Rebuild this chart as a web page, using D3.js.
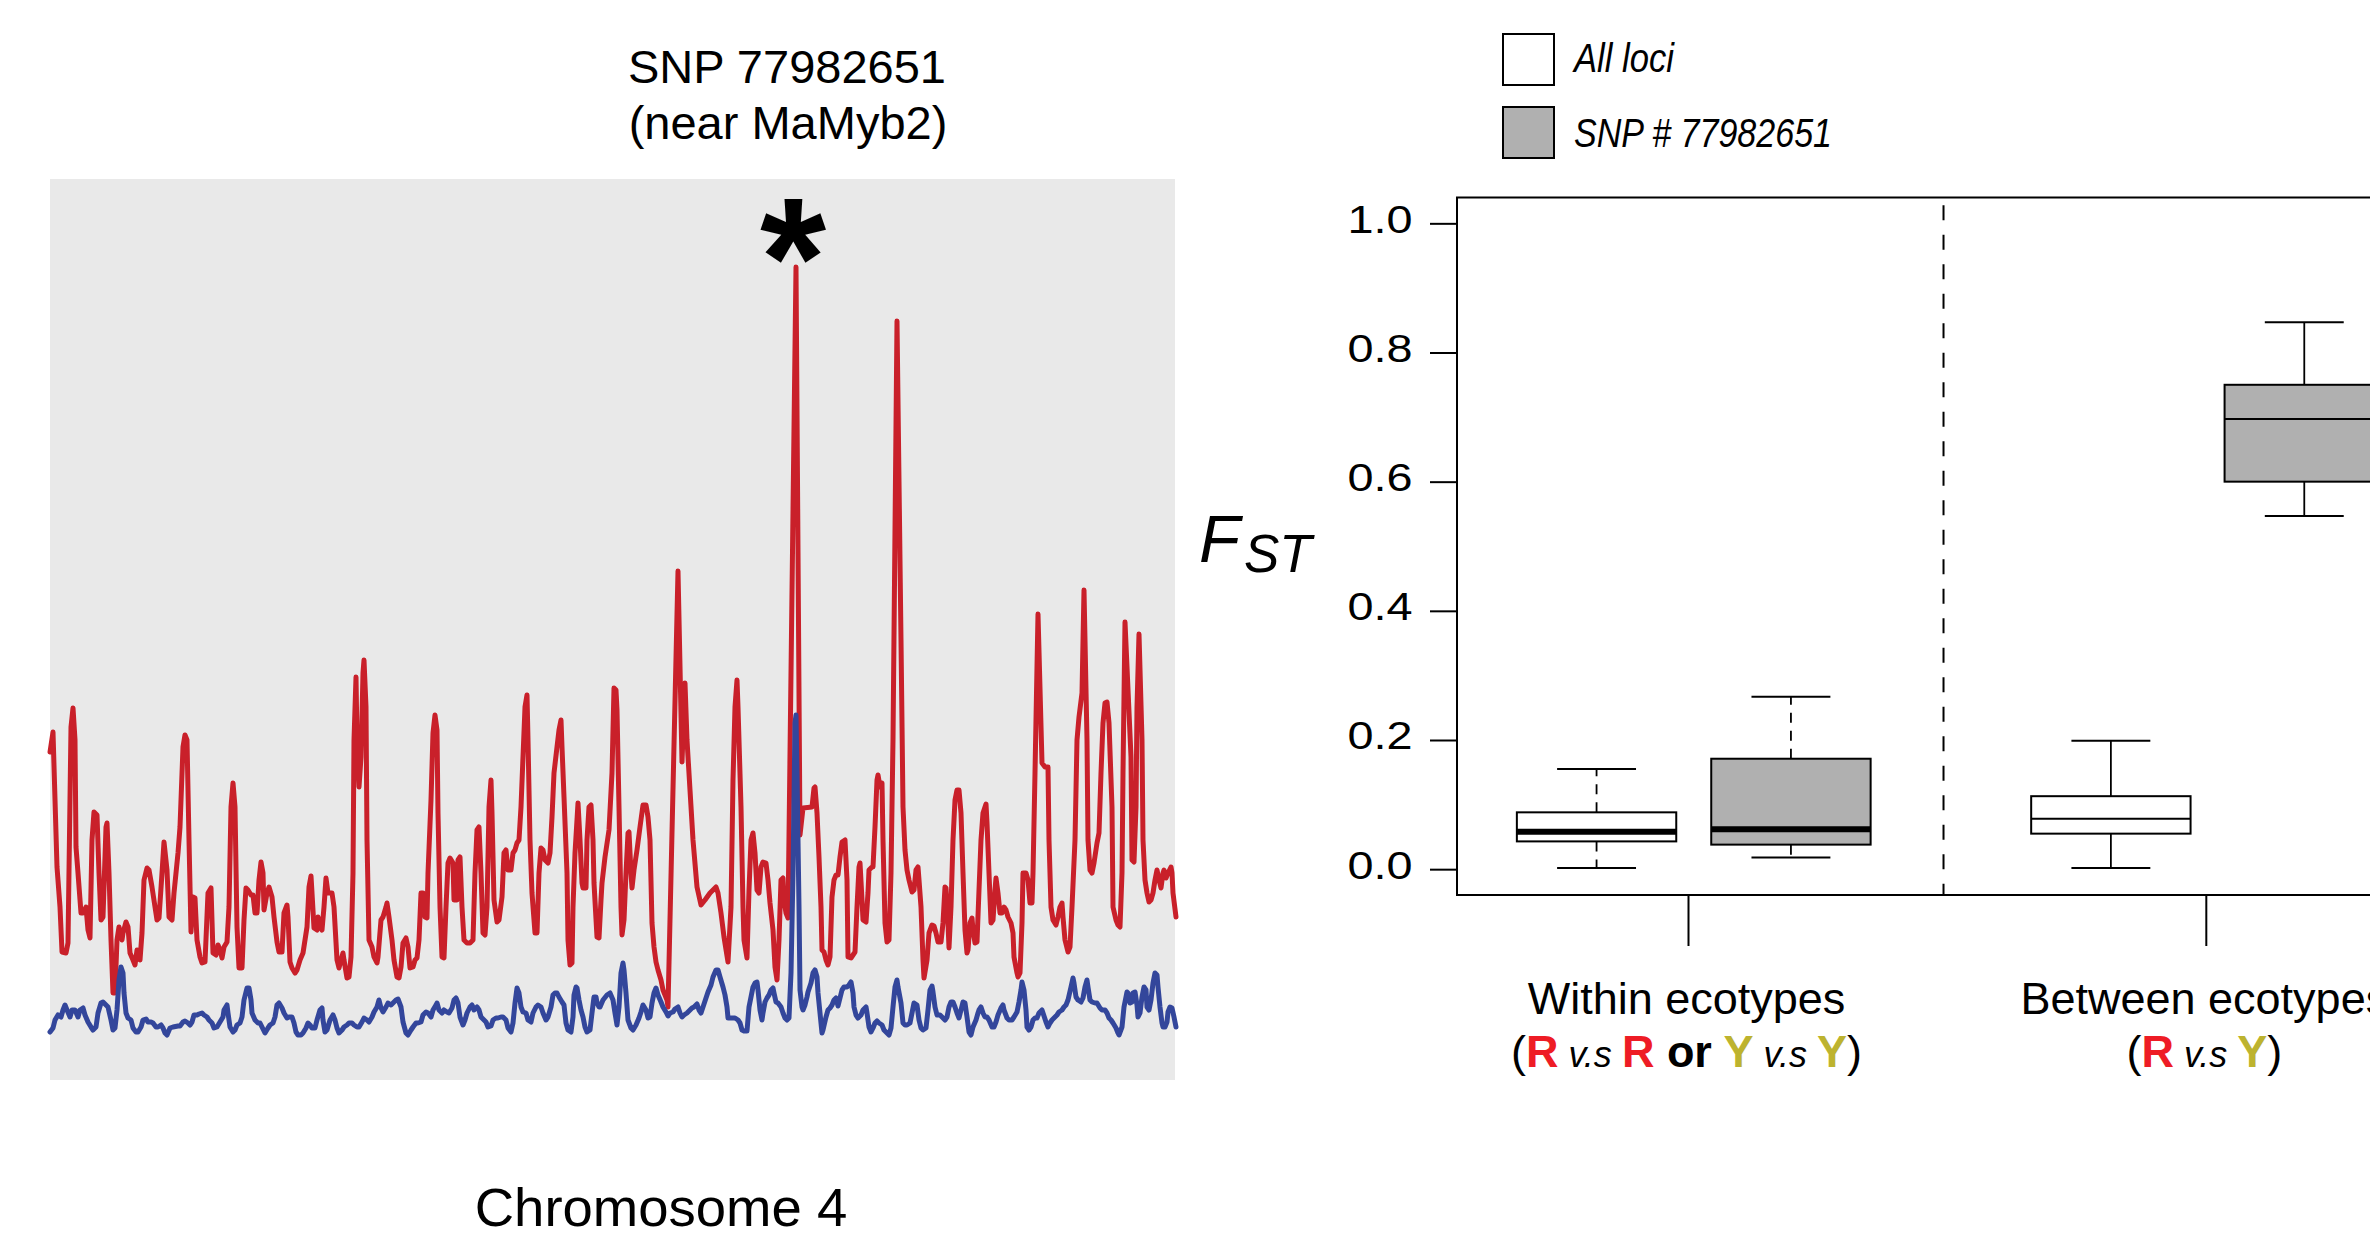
<!DOCTYPE html>
<html>
<head>
<meta charset="utf-8">
<script src="https://cdn.jsdelivr.net/npm/d3@7"></script>
<style>
  body { margin: 0; background: #fff; }
  svg { display: block; font-family: "Liberation Sans", Arial, Helvetica, sans-serif; }
</style>
</head>
<body>
<script>
// sliding-window FST along chromosome 4 (window position, FST)
const betweenFst = [
  [0,.328],[3,.348],[7,.213],[10,.173],[12,.128],[16,.127],[18,.137],[21,.353],[23,.372],[25,.340],[26,.233],[28,.207],
  [31,.167],[33,.167],[36,.173],[38,.150],[40,.142],[42,.240],[44,.268],[47,.265],[49,.207],[51,.160],[53,.163],[56,.253],
  [57,.257],[59,.207],[61,.140],[63,.087],[65,.087],[67,.140],[69,.153],[72,.140],[73,.147],[76,.158],[78,.153],[80,.127],
  [83,.120],[85,.115],[87,.130],[89,.127],[90,.120],[92,.147],[94,.200],[97,.212],[99,.210],[102,.193],[105,.173],[107,.160],
  [109,.162],[112,.207],[114,.238],[117,.210],[119,.163],[122,.160],[124,.187],[128,.227],[130,.253],[133,.333],[135,.345],
  [137,.340],[139,.240],[141,.148],[143,.183],[145,.182],[147,.140],[150,.123],[152,.117],[155,.118],[158,.187],[161,.192],
  [163,.127],[166,.125],[168,.135],[170,.130],[172,.122],[174,.133],[177,.138],[179,.173],[181,.273],[183,.297],[185,.273],
  [187,.153],[189,.112],[192,.112],[194,.160],[196,.192],[198,.190],[201,.185],[203,.185],[205,.167],[207,.167],[209,.200],
  [211,.218],[213,.207],[214,.170],[217,.187],[219,.193],[222,.183],[224,.163],[227,.138],[229,.128],[232,.128],[234,.167],
  [237,.175],[238,.163],[240,.118],[242,.112],[245,.107],[247,.110],[250,.120],[253,.127],[257,.153],[259,.193],[261,.204],
  [262,.187],[264,.152],[267,.150],[268,.163],[270,.153],[272,.150],[274,.173],[276,.202],[278,.187],[282,.187],[284,.173],
  [287,.120],[289,.112],[291,.120],[293,.127],[294,.120],[297,.102],[299,.103],[301,.123],[303,.207],[304,.340],[306,.403],
  [307,.340],[309,.293],[311,.323],[313,.407],[314,.420],[316,.373],[317,.240],[319,.140],[322,.133],[324,.123],[327,.117],
  [328,.123],[331,.160],[333,.163],[336,.173],[337,.177],[339,.163],[342,.140],[344,.120],[347,.103],[349,.102],[351,.113],
  [353,.137],[356,.142],[358,.133],[360,.112],[363,.113],[365,.120],[367,.122],[369,.140],[371,.187],[373,.187],[375,.163],
  [377,.162],[378,.207],[381,.280],[383,.347],[385,.365],[387,.350],[388,.267],[390,.173],[392,.123],[394,.122],[396,.173],
  [398,.217],[400,.222],[403,.217],[404,.180],[407,.180],[408,.220],[410,.223],[412,.173],[414,.140],[417,.137],[420,.137],
  [423,.140],[425,.207],[427,.250],[429,.253],[431,.207],[433,.147],[435,.145],[437,.173],[439,.273],[441,.300],[442,.267],
  [444,.180],[447,.158],[449,.160],[452,.183],[454,.227],[456,.230],[458,.210],[461,.210],[463,.227],[465,.230],[467,.237],
  [469,.240],[471,.273],[473,.323],[475,.373],[477,.385],[478,.340],[480,.240],[482,.187],[485,.147],[487,.147],[489,.207],
  [491,.232],[493,.230],[495,.220],[498,.217],[500,.227],[502,.263],[504,.307],[507,.333],[509,.350],[511,.360],[512,.333],
  [514,.283],[517,.207],[518,.140],[520,.115],[522,.117],[523,.173],[525,.227],[527,.260],[528,.277],[530,.240],[532,.197],
  [533,.192],[536,.192],[537,.240],[539,.273],[541,.275],[543,.240],[544,.197],[547,.143],[549,.142],[551,.180],[552,.197],
  [555,.223],[559,.250],[562,.307],[564,.392],[566,.390],[567,.370],[569,.273],[571,.173],[572,.145],[574,.160],[576,.207],
  [578,.247],[579,.248],[581,.207],[582,.192],[584,.210],[587,.230],[590,.253],[593,.275],[596,.275],[598,.263],[600,.240],
  [602,.157],[604,.133],[606,.118],[608,.110],[611,.100],[613,.090],[617,.080],[618,.073],[628,.509],[632,.318],[635,.397],
  [637,.340],[640,.290],[643,.240],[647,.193],[651,.175],[655,.180],[660,.187],[666,.193],[668,.187],[671,.167],[674,.143],
  [678,.118],[681,.173],[683,.300],[685,.373],[687,.400],[688,.373],[691,.273],[693,.173],[694,.140],[697,.122],[699,.190],
  [701,.240],[703,.247],[705,.227],[707,.190],[709,.187],[711,.213],[713,.218],[716,.217],[718,.200],[720,.177],[723,.150],
  [725,.113],[727,.100],[729,.140],[731,.200],[733,.202],[734,.180],[736,.167],[738,.162],[746,.813],[750,.245],[753,.272],
  [762,.273],[764,.292],[765,.293],[767,.267],[769,.223],[771,.173],[772,.130],[774,.128],[776,.120],[778,.115],[780,.123],
  [782,.183],[784,.200],[786,.205],[788,.205],[790,.223],[792,.238],[795,.240],[797,.200],[798,.123],[801,.122],[803,.125],
  [805,.128],[807,.173],[809,.213],[810,.217],[812,.180],[813,.160],[816,.158],[818,.187],[819,.210],[822,.213],[823,.213],
  [825,.253],[827,.300],[828,.305],[830,.293],[832,.297],[833,.240],[835,.157],[837,.138],[839,.140],[841,.207],[843,.340],
  [847,.759],[851,.440],[853,.273],[855,.230],[857,.210],[859,.200],[862,.188],[864,.190],[866,.210],[868,.213],[869,.200],
  [871,.173],[873,.120],[874,.102],[877,.120],[879,.147],[882,.155],[884,.154],[886,.147],[888,.138],[891,.138],[893,.157],
  [895,.193],[896,.192],[898,.157],[899,.132],[901,.173],[903,.240],[905,.280],[907,.290],[909,.290],[911,.267],[913,.207],
  [915,.150],[917,.127],[918,.130],[920,.157],[922,.162],[923,.150],[925,.137],[927,.138],[929,.190],[931,.240],[933,.267],
  [936,.276],[937,.257],[939,.207],[941,.157],[943,.160],[945,.190],[946,.202],[948,.187],[950,.167],[952,.167],[954,.173],
  [956,.170],[958,.163],[961,.157],[963,.147],[964,.123],[967,.107],[968,.103],[970,.107],[972,.157],[973,.207],[976,.207],
  [978,.200],[980,.177],[982,.177],[983,.207],[985,.307],[988,.466],[992,.317],[995,.313],[998,.313],[999,.240],[1001,.173],
  [1003,.160],[1006,.155],[1008,.163],[1010,.173],[1012,.177],[1013,.163],[1015,.140],[1018,.128],[1020,.133],[1022,.173],
  [1025,.240],[1027,.340],[1029,.363],[1032,.387],[1034,.490],[1037,.340],[1038,.240],[1040,.210],[1042,.207],[1044,.217],
  [1047,.237],[1049,.247],[1051,.307],[1053,.357],[1055,.377],[1057,.378],[1059,.357],[1062,.273],[1063,.173],[1066,.160],
  [1068,.155],[1070,.153],[1072,.207],[1073,.307],[1075,.458],[1081,.323],[1082,.220],[1084,.218],[1086,.273],[1087,.373],
  [1089,.446],[1092,.340],[1093,.240],[1095,.200],[1097,.187],[1099,.178],[1101,.180],[1103,.187],[1105,.200],[1107,.210],
  [1109,.200],[1111,.192],[1113,.207],[1114,.210],[1116,.202],[1118,.207],[1121,.213],[1122,.207],[1123,.187],[1126,.163]
];

const withinFst = [
  [0,.048],[3,.052],[5,.060],[8,.065],[11,.063],[13,.070],[15,.075],[17,.070],[20,.063],[22,.070],[25,.070],[28,.063],
  [30,.070],[33,.072],[35,.065],[38,.058],[41,.053],[43,.050],[46,.053],[48,.067],[51,.077],[53,.078],[56,.075],[58,.073],
  [61,.060],[63,.050],[65,.052],[67,.070],[69,.100],[71,.113],[73,.107],[74,.087],[76,.067],[78,.062],[81,.060],[83,.052],
  [86,.048],[88,.048],[91,.053],[93,.060],[96,.061],[98,.058],[101,.058],[103,.057],[106,.053],[108,.053],[111,.055],
  [113,.052],[115,.047],[117,.045],[120,.052],[123,.053],[128,.054],[130,.054],[133,.058],[135,.059],[138,.057],[140,.055],
  [142,.058],[144,.065],[147,.065],[149,.066],[152,.067],[154,.065],[157,.063],[159,.060],[162,.057],[164,.052],[167,.053],
  [170,.058],[173,.063],[174,.070],[177,.075],[178,.067],[180,.053],[183,.048],[185,.050],[187,.055],[190,.057],[192,.063],
  [194,.080],[197,.092],[199,.092],[201,.080],[202,.067],[205,.060],[208,.057],[210,.057],[212,.053],[215,.047],[218,.052],
  [220,.055],[223,.057],[225,.063],[227,.075],[229,.077],[232,.072],[234,.067],[237,.062],[239,.063],[242,.063],[244,.057],
  [246,.048],[248,.045],[251,.045],[253,.047],[256,.052],[258,.057],[260,.055],[262,.052],[265,.052],[267,.060],[270,.070],
  [272,.072],[273,.060],[275,.048],[277,.050],[280,.060],[283,.065],[285,.060],[287,.052],[289,.047],[292,.050],[294,.053],
  [297,.055],[299,.057],[302,.057],[304,.055],[307,.053],[309,.053],[312,.058],[314,.062],[317,.060],[319,.058],[322,.063],
  [324,.068],[327,.073],[329,.080],[331,.072],[333,.068],[336,.073],[338,.077],[341,.075],[343,.077],[346,.080],[348,.081],
  [351,.073],[353,.058],[356,.047],[358,.045],[361,.050],[363,.053],[366,.057],[368,.057],[371,.058],[373,.065],[376,.068],
  [378,.067],[381,.063],[383,.070],[386,.075],[387,.077],[389,.070],[392,.067],[394,.070],[397,.068],[399,.067],[402,.072],
  [404,.080],[406,.082],[408,.077],[410,.063],[413,.055],[415,.060],[417,.067],[420,.073],[422,.075],[424,.070],[427,.073],
  [429,.070],[431,.063],[433,.061],[436,.058],[438,.053],[441,.054],[443,.060],[446,.062],[448,.062],[451,.063],[453,.063],
  [456,.060],[458,.052],[461,.048],[463,.057],[465,.077],[467,.092],[469,.087],[471,.073],[473,.068],[476,.067],[478,.060],
  [481,.058],[483,.067],[486,.073],[488,.075],[491,.073],[493,.067],[496,.060],[498,.063],[501,.073],[503,.085],[505,.087],
  [507,.087],[509,.083],[512,.078],[514,.075],[516,.057],[518,.050],[521,.048],[523,.063],[524,.085],[526,.093],[527,.092],
  [529,.080],[531,.070],[533,.063],[535,.053],[537,.048],[540,.050],[542,.067],[544,.083],[546,.083],[547,.077],[549,.073],
  [550,.073],[553,.080],[557,.085],[560,.087],[563,.080],[565,.067],[567,.055],[569,.073],[571,.107],[573,.117],[574,.110],
  [576,.087],[578,.060],[581,.052],[583,.050],[586,.055],[589,.062],[591,.068],[593,.075],[596,.070],[598,.062],[600,.063],
  [602,.077],[604,.087],[606,.092],[608,.085],[611,.078],[613,.073],[616,.068],[618,.064],[620,.067],[623,.068],[625,.071],
  [628,.073],[630,.067],[632,.063],[634,.065],[637,.067],[639,.069],[642,.072],[644,.073],[647,.076],[649,.070],[651,.067],
  [653,.073],[656,.082],[658,.088],[661,.095],[663,.103],[666,.110],[668,.110],[670,.103],[673,.093],[675,.085],[677,.073],
  [678,.062],[680,.062],[685,.062],[688,.060],[690,.057],[692,.050],[694,.049],[697,.049],[699,.073],[701,.083],[703,.093],
  [705,.097],[707,.098],[708,.090],[710,.070],[712,.060],[713,.067],[715,.078],[717,.082],[719,.085],[721,.090],[723,.092],
  [724,.087],[726,.078],[728,.077],[731,.073],[733,.067],[735,.062],[737,.060],[739,.062],[741,.107],[743,.207],[745,.357],
  [746,.365],[747,.307],[749,.173],[750,.090],[752,.073],[753,.070],[755,.075],[757,.083],[758,.088],[761,.097],[763,.107],
  [765,.110],[767,.103],[768,.087],[770,.067],[772,.047],[773,.050],[776,.063],[778,.070],[780,.072],[782,.075],[784,.080],
  [786,.082],[788,.074],[790,.082],[792,.090],[794,.093],[797,.093],[799,.095],[801,.098],[803,.087],[804,.073],[806,.065],
  [808,.062],[811,.065],[813,.070],[816,.073],[817,.067],[819,.053],[821,.048],[823,.052],[825,.057],[827,.059],[829,.057],
  [832,.055],[834,.050],[837,.047],[839,.045],[841,.052],[843,.073],[845,.093],[847,.100],[848,.093],[851,.077],[853,.057],
  [855,.055],[857,.055],[860,.057],[862,.067],[864,.077],[867,.075],[869,.060],[871,.052],[873,.050],[876,.052],[878,.070],
  [880,.090],[882,.094],[883,.088],[885,.073],[887,.065],[890,.065],[892,.063],[895,.060],[897,.063],[899,.073],[901,.078],
  [903,.078],[905,.073],[907,.067],[909,.062],[911,.070],[913,.078],[915,.077],[917,.063],[919,.048],[921,.045],[923,.053],
  [926,.060],[928,.067],[929,.070],[931,.073],[933,.067],[935,.063],[937,.063],[939,.060],[942,.053],[944,.053],[946,.058],
  [948,.065],[951,.072],[953,.075],[954,.070],[957,.062],[959,.060],[962,.060],[964,.063],[967,.068],[969,.078],[971,.090],
  [972,.098],[974,.090],[976,.070],[977,.053],[979,.050],[981,.053],[983,.060],[985,.062],[987,.062],[989,.067],[992,.070],
  [993,.067],[996,.058],[998,.053],[1000,.057],[1002,.060],[1004,.062],[1007,.065],[1009,.068],[1012,.070],[1014,.073],
  [1016,.075],[1018,.080],[1021,.093],[1023,.102],[1024,.097],[1026,.083],[1028,.080],[1031,.078],[1033,.082],[1035,.093],
  [1037,.100],[1038,.093],[1040,.080],[1042,.078],[1045,.077],[1047,.077],[1050,.072],[1052,.070],[1055,.070],[1057,.067],
  [1059,.062],[1061,.060],[1063,.057],[1066,.052],[1068,.047],[1069,.045],[1072,.053],[1074,.073],[1077,.088],[1078,.087],
  [1080,.077],[1082,.078],[1083,.087],[1085,.088],[1087,.075],[1088,.063],[1090,.067],[1092,.083],[1094,.093],[1096,.090],
  [1097,.073],[1099,.070],[1101,.080],[1103,.097],[1105,.107],[1107,.105],[1108,.093],[1110,.073],[1112,.057],[1113,.053],
  [1115,.053],[1117,.058],[1118,.068],[1120,.073],[1122,.072],[1124,.063],[1126,.053]
];

// box plot summaries: within ecotypes (All loci, SNP), between ecotypes (All loci, SNP)
const boxGroup  = ['within', 'within', 'between', 'between'];
const boxSeries = ['All loci', 'SNP # 77982651', 'All loci', 'SNP # 77982651'];
const whiskLow  = [0.002, 0.018, 0.002, 0.547];
const q1        = [0.043, 0.038, 0.055, 0.600];
const median    = [0.058, 0.062, 0.078, 0.697];
const q3        = [0.088, 0.171, 0.113, 0.750];
const whiskHigh = [0.155, 0.267, 0.199, 0.847];
const yTicks = [0, 0.2, 0.4, 0.6, 0.8, 1.0];
const legendLabels = ['All loci', 'SNP # 77982651'];

const boxAt = [1, 2, 3.646, 4.641];
const groupAt = [1.473, 4.137];
const sepAt = 2.785;

const W = 2370, H = 1238;
const RED = '#ee1c25', YEL = '#bdb32f';
const fills = {'All loci': '#ffffff', 'SNP # 77982651': '#b0b0b0'};
const groupStyle = {
  within: {dash: '10,8', medW: 6},
  between: {dash: null, medW: 2}
};

const svg = d3.select('body').append('svg')
  .attr('width', W).attr('height', H)
  .style('overflow', 'hidden');

// ---------- left panel ----------
const xL = d3.scaleLinear().domain([0, 1125]).range([50, 1175]);
const yL = d3.scaleLinear().domain([0, 0.9]).range([1080, 180]);

svg.append('rect')
  .attr('x', xL(0)).attr('y', yL(0.9) - 1)
  .attr('width', xL(1125) - xL(0)).attr('height', yL(0) - yL(0.9) + 1)
  .attr('fill', '#e9e9e9');

const line = d3.line().x(d => xL(d[0])).y(d => yL(d[1]));

svg.append('path').datum(betweenFst)
  .attr('d', line).attr('fill', 'none')
  .attr('stroke', '#c9202a').attr('stroke-width', 5)
  .attr('stroke-linejoin', 'round').attr('stroke-linecap', 'round');

svg.append('path').datum(withinFst)
  .attr('d', line).attr('fill', 'none')
  .attr('stroke', '#33469b').attr('stroke-width', 5)
  .attr('stroke-linejoin', 'round').attr('stroke-linecap', 'round');

// asterisk over the highest window
const peak = d3.greatest(betweenFst, d => d[1]);
svg.append('text')
  .attr('x', xL(peak[0]) - 3).attr('y', yL(peak[1]) + 50)
  .attr('text-anchor', 'middle')
  .attr('font-size', 170).attr('font-weight', 'bold')
  .text('*');

svg.append('text').attr('x', 787).attr('y', 83)
  .attr('text-anchor', 'middle').attr('font-size', 47)
  .text('SNP 77982651');
svg.append('text').attr('x', 788).attr('y', 139)
  .attr('text-anchor', 'middle').attr('font-size', 47)
  .text('(near MaMyb2)');

svg.append('text').attr('x', 661).attr('y', 1226)
  .attr('text-anchor', 'middle').attr('font-size', 54.5)
  .text('Chromosome 4');

// ---------- right panel ----------
const xR = d3.scaleLinear().domain([0.282, 5.365]).range([1457, 2445]);
const yR = d3.scaleLinear().domain([-0.04, 1.04]).range([895, 197.5]);

svg.append('rect')
  .attr('x', xR(0.282)).attr('y', yR(1.04))
  .attr('width', xR(5.365) - xR(0.282)).attr('height', yR(-0.04) - yR(1.04))
  .attr('fill', 'none').attr('stroke', '#000').attr('stroke-width', 2);

const yAxis = svg.append('g')
  .attr('transform', `translate(${xR(0.282)},0)`)
  .call(d3.axisLeft(yR).tickValues(yTicks).tickFormat(d3.format('.1f')).tickSize(27));
yAxis.attr('font-family', null);
yAxis.select('.domain').remove();
yAxis.selectAll('line').attr('stroke-width', 2);
yAxis.selectAll('text')
  .attr('font-size', 39)
  .attr('x', -37).attr('dy', '0.23em')
  .attr('transform', 'scale(1.2,1)');

// F_ST label
const fst = svg.append('text').attr('x', 1199).attr('y', 562)
  .attr('font-size', 67).attr('font-style', 'italic');
fst.append('tspan').text('F');
fst.append('tspan').attr('font-size', 53).attr('dy', 10).attr('dx', 4).text('ST');

// separator between the two comparisons
svg.append('line')
  .attr('x1', xR(sepAt)).attr('x2', xR(sepAt))
  .attr('y1', yR(1.028)).attr('y2', yR(-0.04))
  .attr('stroke', '#000').attr('stroke-width', 2)
  .attr('stroke-dasharray', '15,14.5');

// group ticks
svg.selectAll('.gtick').data(groupAt).enter().append('line')
  .attr('x1', d => xR(d)).attr('x2', d => xR(d))
  .attr('y1', yR(-0.04)).attr('y2', yR(-0.04) + 51)
  .attr('stroke', '#000').attr('stroke-width', 2);

// boxes
const half = xR(1.41) - xR(1);
const capHalf = xR(1.203) - xR(1);
const boxes = svg.append('g');
boxAt.forEach((at, i) => {
  const cx = xR(at);
  const st = groupStyle[boxGroup[i]];
  const g = boxes.append('g');
  [[q3[i], whiskHigh[i]], [q1[i], whiskLow[i]]].forEach(([a, b]) => {
    g.append('line')
      .attr('x1', cx).attr('x2', cx).attr('y1', yR(a)).attr('y2', yR(b))
      .attr('stroke', '#000').attr('stroke-width', 1.8)
      .attr('stroke-dasharray', st.dash);
    g.append('line')
      .attr('x1', cx - capHalf).attr('x2', cx + capHalf).attr('y1', yR(b)).attr('y2', yR(b))
      .attr('stroke', '#000').attr('stroke-width', 2);
  });
  g.append('rect')
    .attr('x', cx - half).attr('y', yR(q3[i]))
    .attr('width', 2 * half).attr('height', yR(q1[i]) - yR(q3[i]))
    .attr('fill', fills[boxSeries[i]]).attr('stroke', '#000').attr('stroke-width', 2);
  g.append('line')
    .attr('x1', cx - half).attr('x2', cx + half).attr('y1', yR(median[i])).attr('y2', yR(median[i]))
    .attr('stroke', '#000').attr('stroke-width', st.medW);
});

// legend
const leg = svg.append('g');
legendLabels.forEach((lab, i) => {
  leg.append('rect')
    .attr('x', 1503).attr('y', 34 + i * 73).attr('width', 51).attr('height', 51)
    .attr('fill', fills[lab]).attr('stroke', '#000').attr('stroke-width', 2);
  leg.append('text')
    .attr('x', 1574).attr('y', 72 + i * 75)
    .attr('font-size', 40).attr('font-style', 'italic')
    .attr('textLength', i === 0 ? 100 : 258).attr('lengthAdjust', 'spacingAndGlyphs')
    .text(lab);
});

// group labels
const groupTitles = ['Within ecotypes', 'Between ecotypes'];
const groupParts = [
  [['(', 'n'], ['R', 'r'], [' v.s ', 'i'], ['R', 'r'], [' or ', 'b'], ['Y', 'y'], [' v.s ', 'i'], ['Y', 'y'], [')', 'n']],
  [['(', 'n'], ['R', 'r'], [' v.s ', 'i'], ['Y', 'y'], [')', 'n']]
];
groupAt.forEach((at, i) => {
  svg.append('text')
    .attr('x', xR(at) - 2).attr('y', 1014)
    .attr('text-anchor', 'middle').attr('font-size', 45)
    .text(groupTitles[i]);
  const t = svg.append('text')
    .attr('x', xR(at) - 2).attr('y', 1067)
    .attr('text-anchor', 'middle').attr('font-size', 45)
    .style('white-space', 'pre');
  groupParts[i].forEach(([s, k]) => {
    const sp = t.append('tspan').text(s);
    if (k === 'r') sp.attr('fill', RED).attr('font-weight', 'bold');
    if (k === 'y') sp.attr('fill', YEL).attr('font-weight', 'bold');
    if (k === 'b') sp.attr('font-weight', 'bold');
    if (k === 'i') sp.attr('font-style', 'italic').attr('font-size', 36);
  });
});
</script>
</body>
</html>
